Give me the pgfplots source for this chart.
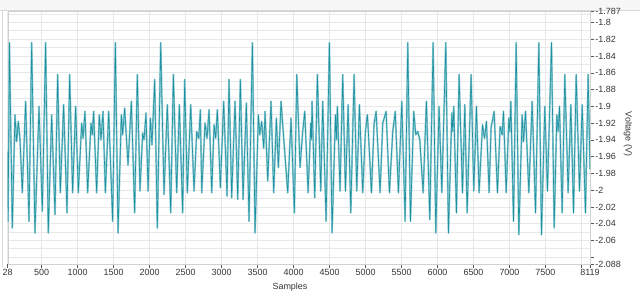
\documentclass[border=0pt]{standalone}
\usepackage{fontspec}
\setmainfont{Liberation Sans}
\usepackage{pgfplots}
\usepackage{pgfplotstable}
\pgfplotsset{compat=1.18}
\definecolor{sig}{RGB}{30,145,160}
\definecolor{sigl}{RGB}{140,202,210}
\definecolor{gridc}{RGB}{232,232,232}
\definecolor{txt}{RGB}{55,55,55}
\pgfplotstableread{
x y
28 -1.954
34 -2.037
52 -1.824
92 -2.045
129 -1.910
152 -1.942
175 -1.918
198 -1.938
231 -2.003
277 -1.894
324 -2.037
361 -1.824
407 -2.051
463 -1.900
509 -2.025
555 -1.824
592 -2.051
639 -1.910
685 -2.029
722 -1.862
759 -2.003
805 -1.898
852 -2.027
889 -1.862
930 -2.003
972 -1.900
1009 -2.003
1056 -1.920
1074 -1.938
1102 -1.906
1139 -2.003
1185 -1.920
1204 -1.934
1222 -1.906
1264 -2.003
1301 -1.910
1324 -1.940
1352 -1.906
1385 -2.003
1431 -1.906
1486 -2.037
1524 -1.824
1561 -2.051
1607 -1.910
1625 -1.934
1653 -1.902
1700 -1.970
1746 -1.894
1792 -2.027
1829 -1.862
1866 -2.001
1903 -1.932
1922 -1.940
1950 -1.908
1978 -2.001
2010 -1.914
2033 -1.946
2070 -1.868
2107 -2.045
2154 -1.824
2200 -2.005
2246 -1.898
2293 -2.027
2330 -1.862
2376 -2.003
2413 -1.898
2459 -2.027
2487 -1.868
2524 -2.003
2571 -1.898
2617 -2.001
2654 -1.930
2682 -1.938
2705 -1.904
2724 -2.003
2770 -1.920
2798 -1.938
2826 -1.904
2863 -2.003
2895 -1.922
2918 -1.938
2941 -1.904
2983 -1.997
3029 -1.894
3076 -2.007
3103 -1.868
3140 -2.009
3187 -1.894
3224 -2.011
3261 -1.868
3298 -2.011
3344 -1.896
3381 -2.037
3428 -1.824
3465 -2.051
3511 -1.910
3530 -1.934
3557 -1.918
3585 -1.950
3604 -1.906
3641 -1.989
3687 -1.894
3724 -2.003
3761 -1.914
3789 -1.973
3826 -1.894
3873 -1.950
3919 -2.003
3965 -1.914
4011 -2.027
4045 -1.862
4090 -1.973
4127 -1.930
4155 -1.906
4202 -2.003
4239 -1.920
4248 -1.940
4257 -1.894
4294 -2.009
4331 -1.862
4378 -2.001
4405 -1.894
4452 -2.037
4498 -1.824
4535 -2.051
4582 -1.910
4595 -1.940
4609 -1.900
4646 -2.001
4683 -1.862
4721 -2.001
4758 -1.898
4795 -2.027
4841 -1.862
4878 -2.001
4915 -1.898
4961 -2.003
4998 -1.930
5026 -1.910
5045 -1.940
5082 -2.003
5119 -1.920
5147 -1.906
5202 -2.003
5239 -1.920
5286 -1.906
5332 -2.003
5378 -1.930
5413 -1.906
5457 -2.003
5504 -1.894
5550 -2.037
5587 -1.824
5624 -2.037
5670 -1.906
5698 -1.934
5726 -1.930
5754 -1.940
5800 -2.003
5846 -1.894
5893 -2.035
5939 -1.824
5976 -2.051
6022 -1.900
6060 -2.003
6115 -1.824
6152 -2.051
6199 -1.908
6212 -1.930
6226 -1.900
6263 -2.027
6300 -1.862
6347 -2.003
6379 -1.898
6412 -2.027
6467 -1.862
6504 -2.001
6541 -1.900
6578 -2.003
6625 -1.922
6653 -1.938
6680 -1.918
6717 -2.003
6745 -1.925
6787 -1.906
6833 -2.003
6870 -1.924
6898 -1.934
6917 -1.906
6954 -2.003
6991 -1.914
7005 -1.930
7019 -1.894
7056 -2.037
7093 -1.824
7130 -2.053
7176 -1.910
7195 -1.942
7223 -1.906
7269 -2.003
7315 -1.894
7362 -2.027
7408 -1.824
7445 -2.053
7491 -1.900
7528 -2.001
7584 -1.824
7621 -2.045
7658 -1.910
7676 -1.930
7695 -1.900
7732 -2.027
7769 -1.862
7815 -2.003
7853 -1.898
7890 -2.027
7927 -1.862
7973 -2.001
8010 -1.898
8056 -2.027
8093 -1.862
8119 -1.975
}\sigdata
\begin{document}
\begin{tikzpicture}[x=1bp,y=1bp]
\path[use as bounding box] (0,0) rectangle (640,297);
\fill[white] (0,0) rectangle (640,297);
\fill[black!3] (0,287) rectangle (640,297);
\draw[black!15, line width=0.8bp] (0,286.6) -- (640,286.6);
\draw[black!15, line width=0.8bp] (2.7,286) -- (2.7,30);
\begin{axis}[
  at={(7.7bp,33bp)}, anchor=south west,
  scale only axis, width=582.3bp, height=252.4bp,
  xmin=28, xmax=8119, ymin=-2.088, ymax=-1.787,
  axis line style={black!18},
  xtick={28,500,1000,1500,2000,2500,3000,3500,4000,4500,5000,5500,6000,6500,7000,7500,8000,8119},
  xticklabels={28,500,1000,1500,2000,2500,3000,3500,4000,4500,5000,5500,6000,6500,7000,7500,,8119},
  ytick={-2.088,-2.08,-2.06,-2.04,-2.02,-2,-1.98,-1.96,-1.94,-1.92,-1.9,-1.88,-1.86,-1.84,-1.82,-1.8,-1.787},
  yticklabels={-2.088,,-2.06,-2.04,-2.02,-2,-1.98,-1.96,-1.94,-1.92,-1.9,-1.88,-1.86,-1.84,-1.82,-1.8,-1.787},
  minor ytick={-2.07,-2.05,-2.03,-2.01,-1.99,-1.97,-1.95,-1.93,-1.91,-1.89,-1.87,-1.85,-1.83,-1.81,-1.79},
  ytick pos=right, yticklabel pos=right,
  xtick pos=bottom,
  tick align=outside,
  major tick length=4bp, minor tick length=0pt,
  tick style={black!65, line width=0.6bp},
  grid=both,
  major grid style={gridc, line width=0.9bp},
  minor grid style={gridc, line width=0.9bp},
  ticklabel style={font=\fontsize{9}{10}\selectfont, text=txt},
  yticklabel style={anchor=west, inner sep=1.2bp},
  xticklabel style={anchor=north, inner sep=1.5bp},
  clip=true,
]
\addplot[sigl, line width=1.8bp, line join=round] table[x=x,y=y] {\sigdata};
\addplot[sig, line width=0.6bp, line join=round] table[x=x,y=y] {\sigdata};
\end{axis}
\node[rotate=-90, font=\fontsize{9}{10}\selectfont, text=txt] at (628,163) {Voltage (V)};
\node[font=\fontsize{9}{10}\selectfont, text=txt] at (290,10) {Samples};
\end{tikzpicture}
\end{document}
